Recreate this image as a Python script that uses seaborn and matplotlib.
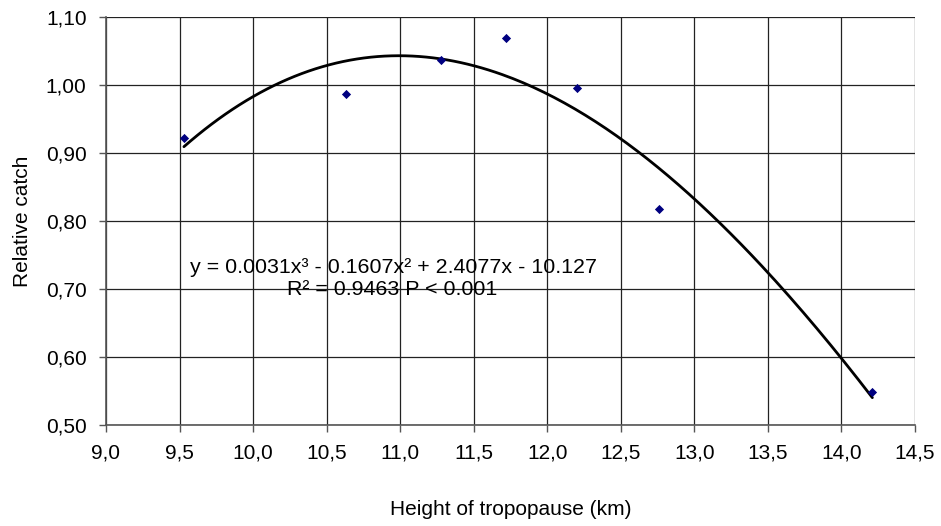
import numpy as np
import pandas as pd
import matplotlib
matplotlib.use("Agg")
import matplotlib.pyplot as plt
import seaborn as sns

# Data
height = [9.53, 10.63, 11.28, 11.72, 12.20, 12.76, 14.21]
catch = [0.922, 0.987, 1.037, 1.069, 0.996, 0.817, 0.549]
x_ticks = [9.0, 9.5, 10.0, 10.5, 11.0, 11.5, 12.0, 12.5, 13.0, 13.5, 14.0, 14.5]
y_ticks = [0.50, 0.60, 0.70, 0.80, 0.90, 1.00, 1.10]

sns.set_theme(style="white", rc={"text.color": "black", "axes.labelcolor": "black",
                                 "xtick.color": "black", "ytick.color": "black"})
plt.rcParams['font.family'] = ['Liberation Sans', 'DejaVu Sans']

df = pd.DataFrame({"height": height, "catch": catch})

# 3rd order polynomial trendline fitted to the points
coef = np.polyfit(df["height"], df["catch"], 3)
xs = np.linspace(min(height), max(height), 200)
trend = pd.DataFrame({"height": xs, "catch": np.polyval(coef, xs)})

fig = plt.figure(figsize=(9.41, 5.26), dpi=100)
ax = fig.add_axes([0.1126, 0.192, 0.8598, 0.7757])

sns.lineplot(data=trend, x="height", y="catch", color="black", lw=2, ax=ax)
sns.scatterplot(data=df, x="height", y="catch", marker="D", color="#000080",
                s=22, edgecolor="#000080", linewidth=0, ax=ax, zorder=3)

ax.set_xlim(9.0, 14.5)
ax.set_ylim(0.50, 1.10)
ax.set_xticks(x_ticks)
ax.set_yticks(y_ticks)
ax.set_xticklabels([f"{v:.1f}".replace(".", ",") for v in x_ticks])
ax.set_yticklabels([f"{v:.2f}".replace(".", ",") for v in y_ticks])
ax.grid(True, color="#222222", lw=0.9)
for side in ["top", "right"]:
    ax.spines[side].set_visible(False)
for side in ["left", "bottom"]:
    ax.spines[side].set_color("#555555")
    ax.spines[side].set_linewidth(1.2)
ax.tick_params(axis="both", which="major", direction="out", length=5, width=1,
               color="#555555", labelcolor="black", labelsize=15, left=True, bottom=True)
ax.tick_params(axis="x", pad=8)
ax.tick_params(axis="y", pad=9)

ax.set_xlabel("Height of tropopause (km)", fontsize=15, labelpad=27)
ax.set_ylabel("Relative catch", fontsize=15, labelpad=10)

ax.text(10.952, 0.731, "y = 0.0031x³ - 0.1607x² + 2.4077x - 10.127",
        ha="center", va="center", fontsize=15.4, color="black")
ax.text(10.942, 0.699, "R² = 0.9463 P < 0.001", ha="center", va="center",
        fontsize=15.4, color="black")

fig.savefig("out.png", dpi=100)
